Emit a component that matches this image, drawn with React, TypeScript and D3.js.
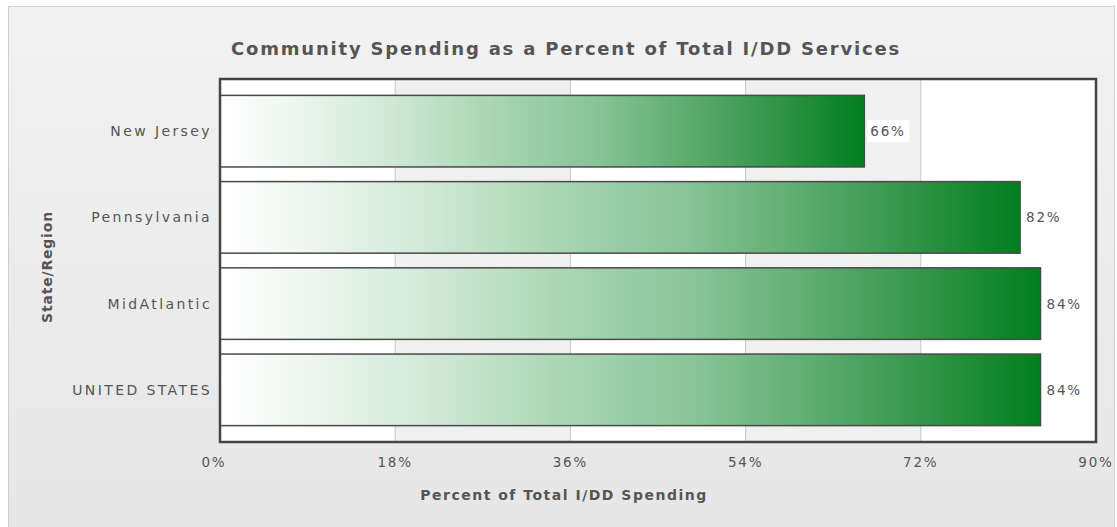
import React from "react";
import * as d3 from "d3";

const categories = ["New Jersey", "Pennsylvania", "MidAtlantic", "UNITED STATES"];
const values = [66.2, 82.2, 84.3, 84.3];
const valueLabels = ["66%", "82%", "84%", "84%"];
const xTicks = [0, 18, 36, 54, 72, 90];
const title = "Community Spending as a Percent of Total I/DD Services";
const xTitle = "Percent of Total I/DD Spending";
const yTitle = "State/Region";

const W = 1117;
const H = 527;
const plot = { left: 220, right: 1096, top: 79, bottom: 442 };
const font = "'DejaVu Sans', Verdana, sans-serif";
const textColor = "#555555";

export default function App() {
  const x = d3.scaleLinear().domain([0, 90]).range([plot.left, plot.right]);
  const y = d3
    .scaleBand<string>()
    .domain(categories)
    .range([plot.top, plot.bottom])
    .paddingInner(0.17)
    .paddingOuter(0.19);

  const bands = d3.range(0, xTicks.length - 1);

  return (
    <svg
      width={W}
      height={H}
      style={{ position: "absolute", left: 0, top: 0 }}
      xmlns="http://www.w3.org/2000/svg"
    >
      <defs>
        <linearGradient id="panelBg" x1="0" y1="0" x2="0" y2="1">
          <stop offset="0" stopColor="#f2f2f2" />
          <stop offset="1" stopColor="#e6e6e6" />
        </linearGradient>
        <linearGradient id="barGrad" x1="0" y1="0" x2="1" y2="0">
          <stop offset="0" stopColor="#ffffff" />
          <stop offset="0.08" stopColor="#f3f9f4" />
          <stop offset="0.25" stopColor="#d2ead8" />
          <stop offset="0.42" stopColor="#a9d6b3" />
          <stop offset="0.58" stopColor="#88c497" />
          <stop offset="0.72" stopColor="#5fad71" />
          <stop offset="0.87" stopColor="#2f9346" />
          <stop offset="1" stopColor="#007f1e" />
        </linearGradient>
      </defs>
      <rect x={0} y={0} width={W} height={H} fill="#ffffff" />
      <rect
        x={8.5}
        y={6.5}
        width={W - 11}
        height={H}
        fill="url(#panelBg)"
        stroke="#cfcfcf"
        strokeWidth={1}
      />
      <text
        x={566}
        y={55}
        textAnchor="middle"
        fontFamily={font}
        fontWeight="bold"
        fontSize={18}
        fill={textColor}
        letterSpacing={1.8}
      >
        {title}
      </text>

      {/* plot background and alternating bands */}
      <rect x={plot.left} y={plot.top} width={plot.right - plot.left} height={plot.bottom - plot.top} fill="#ffffff" />
      {bands.map((i) =>
        i % 2 === 1 ? (
          <rect
            key={"band" + i}
            x={x(xTicks[i])}
            y={plot.top}
            width={x(xTicks[i + 1]) - x(xTicks[i])}
            height={plot.bottom - plot.top}
            fill="#f0f0f0"
          />
        ) : null
      )}
      {xTicks.slice(1, -1).map((t) => (
        <line
          key={"g" + t}
          x1={x(t)}
          x2={x(t)}
          y1={plot.top}
          y2={plot.bottom}
          stroke="#c8c8c8"
          strokeWidth={1}
        />
      ))}

      {/* bars */}
      {categories.map((c, i) => (
        <rect
          key={"bar" + c}
          x={x(0)}
          y={y(c)}
          width={x(values[i]) - x(0)}
          height={y.bandwidth()}
          fill="url(#barGrad)"
          stroke="#4a4a4a"
          strokeWidth={1.5}
        />
      ))}

      {/* value labels */}
      {categories.map((c, i) => {
        const lx = x(values[i]) + 3;
        const ly = (y(c) as number) + y.bandwidth() / 2;
        return (
          <g key={"lab" + c}>
            <rect x={lx} y={ly - 11} width={42} height={22} fill="#ffffff" />
            <text
              x={lx + 3}
              y={ly + 5}
              fontFamily={font}
              fontSize={13.5}
              fill={textColor}
              letterSpacing={1.8}
            >
              {valueLabels[i]}
            </text>
          </g>
        );
      })}

      {/* plot border */}
      <rect
        x={plot.left}
        y={plot.top}
        width={plot.right - plot.left}
        height={plot.bottom - plot.top}
        fill="none"
        stroke="#444444"
        strokeWidth={2.5}
      />

      {/* category labels */}
      {categories.map((c) => (
        <text
          key={"cat" + c}
          x={plot.left - 8}
          y={(y(c) as number) + y.bandwidth() / 2 + 5}
          textAnchor="end"
          fontFamily={font}
          fontSize={14}
          fill={textColor}
          letterSpacing={2.4}
        >
          {c}
        </text>
      ))}

      {/* x tick labels */}
      {xTicks.map((t) => (
        <text
          key={"xt" + t}
          x={x(t) - (t === 0 ? 6 : 0)}
          y={467}
          textAnchor="middle"
          fontFamily={font}
          fontSize={13.5}
          fill={textColor}
          letterSpacing={1.8}
        >
          {t + "%"}
        </text>
      ))}

      <text
        x={564}
        y={500}
        textAnchor="middle"
        fontFamily={font}
        fontWeight="bold"
        fontSize={14}
        fill={textColor}
        letterSpacing={1.5}
      >
        {xTitle}
      </text>
      <text
        transform={`translate(52, 267) rotate(-90)`}
        textAnchor="middle"
        fontFamily={font}
        fontWeight="bold"
        fontSize={14}
        fill={textColor}
        letterSpacing={0.8}
      >
        {yTitle}
      </text>
    </svg>
  );
}
